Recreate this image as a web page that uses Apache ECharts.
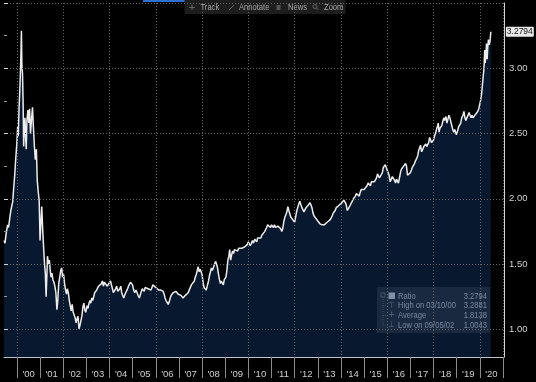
<!DOCTYPE html>
<html>
<head>
<meta charset="utf-8">
<script src="https://cdn.jsdelivr.net/npm/echarts@6/dist/echarts.min.js"></script>
<style>
html,body{margin:0;padding:0;background:#000;}
#chart{width:536px;height:382px;}
</style>
</head>
<body>
<div id="chart"></div>
<script>
// ---- DATA ----
const dates = [
'1999-06-10','1999-06-25','1999-07-15','1999-08-05','1999-08-20','1999-09-10','1999-09-25','1999-10-10','1999-10-25','1999-11-10','1999-11-25','1999-12-10','1999-12-28',
'2000-01-10','2000-01-20','2000-02-01','2000-02-15','2000-02-25','2000-03-03','2000-03-10','2000-03-17','2000-03-27','2000-04-05','2000-04-14','2000-04-25','2000-05-05','2000-05-15','2000-05-25','2000-06-05','2000-06-20','2000-07-05','2000-07-17','2000-07-31','2000-08-15','2000-09-01','2000-09-15','2000-10-01','2000-10-15','2000-11-01','2000-11-15','2000-12-01','2000-12-15','2000-12-29',
'2001-01-10','2001-01-25','2001-02-10','2001-02-25','2001-03-10','2001-03-22','2001-04-04','2001-04-15','2001-04-25','2001-05-10','2001-05-25','2001-06-08','2001-06-20','2001-07-05','2001-07-20','2001-08-05','2001-08-20','2001-09-05','2001-09-21','2001-10-05','2001-10-20','2001-11-05','2001-11-20','2001-12-05','2001-12-20',
'2002-01-05','2002-01-20','2002-02-05','2002-02-20','2002-03-05','2002-03-20','2002-04-05','2002-04-20','2002-05-05','2002-05-20','2002-06-05','2002-06-20','2002-07-05','2002-07-20','2002-08-05','2002-08-20','2002-09-05','2002-09-20','2002-10-08','2002-10-20','2002-11-05','2002-11-20','2002-12-05','2002-12-20',
'2003-01-10','2003-01-25','2003-02-10','2003-02-25','2003-03-10','2003-03-25','2003-04-10','2003-04-25','2003-05-10','2003-05-25','2003-06-10','2003-06-25','2003-07-10','2003-07-25','2003-08-10','2003-08-25','2003-09-10','2003-09-25','2003-10-10','2003-10-25','2003-11-10','2003-11-25','2003-12-10','2003-12-25',
'2004-01-15','2004-01-30','2004-02-15','2004-03-01','2004-03-20','2004-04-05','2004-04-20','2004-05-10','2004-05-25','2004-06-10','2004-06-25','2004-07-10','2004-07-25','2004-08-10','2004-08-25','2004-09-10','2004-09-25','2004-10-10','2004-10-25','2004-11-10','2004-11-25','2004-12-10','2004-12-28',
'2005-01-15','2005-02-01','2005-02-20','2005-03-10','2005-03-25','2005-04-15','2005-04-28','2005-05-15','2005-05-30','2005-06-15','2005-06-30','2005-07-15','2005-07-30','2005-08-15','2005-08-30','2005-09-15','2005-09-30','2005-10-15','2005-10-30','2005-11-15','2005-11-30','2005-12-15','2005-12-30',
'2006-01-15','2006-01-30','2006-02-15','2006-03-05','2006-03-20','2006-04-10','2006-04-25','2006-05-10','2006-05-25','2006-06-10','2006-06-25','2006-07-15','2006-07-30','2006-08-15','2006-08-30','2006-09-15','2006-09-30','2006-10-15','2006-10-30','2006-11-15','2006-11-30','2006-12-15','2006-12-30',
'2007-01-15','2007-01-30','2007-02-15','2007-03-05','2007-03-20','2007-04-10','2007-04-25','2007-05-10','2007-05-25','2007-06-10','2007-06-25','2007-07-15','2007-07-30','2007-08-15','2007-08-30','2007-09-15','2007-09-30','2007-10-15','2007-10-30','2007-11-15','2007-11-30','2007-12-15','2007-12-30',
'2008-01-15','2008-01-30','2008-02-15','2008-03-05','2008-03-20','2008-04-10','2008-04-25','2008-05-10','2008-05-25','2008-06-10','2008-06-25','2008-07-15','2008-07-30','2008-08-15','2008-08-30','2008-09-15','2008-09-30','2008-10-15','2008-10-30','2008-11-15','2008-11-30','2008-12-15','2008-12-30',
'2009-01-10','2009-01-25','2009-02-10','2009-02-25','2009-03-10','2009-03-25','2009-04-10','2009-04-25','2009-05-10','2009-05-25','2009-06-10','2009-06-25','2009-07-15','2009-07-30','2009-08-15','2009-08-30','2009-09-15','2009-09-30','2009-10-15','2009-10-30','2009-11-15','2009-11-30','2009-12-15','2009-12-30',
'2010-01-15','2010-01-30','2010-02-15','2010-03-05','2010-03-20','2010-04-10','2010-04-25','2010-05-10','2010-05-25','2010-06-10','2010-06-25','2010-07-15','2010-07-30','2010-08-15','2010-08-30','2010-09-15','2010-09-30','2010-10-15','2010-10-30','2010-11-15','2010-11-30','2010-12-15','2010-12-30',
'2011-01-15','2011-01-30','2011-02-15','2011-03-05','2011-03-20','2011-04-10','2011-04-25','2011-05-10','2011-05-25','2011-06-10','2011-06-25','2011-07-15','2011-07-30','2011-08-15','2011-08-30','2011-09-15','2011-09-30','2011-10-15','2011-10-30','2011-11-15','2011-11-30','2011-12-15','2011-12-30',
'2012-01-15','2012-01-30','2012-02-15','2012-03-05','2012-03-20','2012-04-10','2012-04-25','2012-05-10','2012-05-25','2012-06-10','2012-06-25','2012-07-15','2012-07-30','2012-08-15','2012-08-30','2012-09-15','2012-09-30','2012-10-15','2012-10-30','2012-11-15','2012-11-30','2012-12-15','2012-12-30',
'2013-01-15','2013-01-30','2013-02-15','2013-03-05','2013-03-20','2013-04-10','2013-04-25','2013-05-10','2013-05-25','2013-06-10','2013-06-25','2013-07-15','2013-07-30','2013-08-15','2013-08-30','2013-09-15','2013-09-30','2013-10-15','2013-10-30','2013-11-15','2013-11-30','2013-12-15','2013-12-30',
'2014-01-15','2014-01-30','2014-02-15','2014-03-05','2014-03-20','2014-04-10','2014-04-25','2014-05-10','2014-05-25','2014-06-10','2014-06-25','2014-07-15','2014-07-30','2014-08-15','2014-08-30','2014-09-15','2014-09-30','2014-10-15','2014-10-30','2014-11-15','2014-11-30','2014-12-15','2014-12-30',
'2015-01-15','2015-01-30','2015-02-15','2015-03-05','2015-03-20','2015-04-10','2015-04-25','2015-05-10','2015-05-25','2015-06-10','2015-06-25','2015-07-15','2015-07-30','2015-08-15','2015-08-30','2015-09-15','2015-09-30','2015-10-15','2015-10-30','2015-11-15','2015-11-30','2015-12-15','2015-12-30',
'2016-01-15','2016-01-30','2016-02-15','2016-03-05','2016-03-20','2016-04-10','2016-04-25','2016-05-10','2016-05-25','2016-06-10','2016-06-25','2016-07-15','2016-07-30','2016-08-15','2016-08-30','2016-09-15','2016-09-30','2016-10-15','2016-10-30','2016-11-15','2016-11-30','2016-12-15','2016-12-30',
'2017-01-15','2017-01-30','2017-02-15','2017-03-05','2017-03-20','2017-04-10','2017-04-25','2017-05-10','2017-05-25','2017-06-10','2017-06-25','2017-07-15','2017-07-30','2017-08-15','2017-08-30','2017-09-15','2017-09-30','2017-10-15','2017-10-30','2017-11-15','2017-11-30','2017-12-15','2017-12-30',
'2018-01-15','2018-01-30','2018-02-15','2018-03-05','2018-03-15','2018-03-28','2018-04-10','2018-04-25','2018-05-10','2018-05-25','2018-06-10','2018-06-25','2018-07-15','2018-07-30','2018-08-15','2018-08-30','2018-09-15','2018-09-30','2018-10-15','2018-10-30','2018-11-15','2018-11-30','2018-12-15','2018-12-27',
'2019-01-15','2019-01-30','2019-02-15','2019-03-05','2019-03-20','2019-04-10','2019-04-25','2019-05-10','2019-05-25','2019-06-10','2019-06-25','2019-07-15','2019-07-30','2019-08-15','2019-08-30','2019-09-15','2019-09-30','2019-10-15','2019-10-30','2019-11-15','2019-11-30','2019-12-15','2019-12-30',
'2020-01-15','2020-01-30','2020-02-12','2020-02-25','2020-03-05','2020-03-18','2020-03-25','2020-04-05','2020-04-15','2020-04-25','2020-05-05','2020-05-15','2020-05-28','2020-06-10','2020-06-22'
];
const ratio = [
1.68,1.66,1.74,1.80,1.78,1.86,1.91,1.90,1.98,2.09,2.18,2.30,2.42,
2.55,2.48,2.68,2.85,3.00,3.12,3.2881,3.02,2.96,2.76,2.40,2.55,2.62,2.48,2.38,2.60,2.68,2.58,2.69,2.50,2.60,2.70,2.55,2.40,2.30,2.38,2.14,2.05,1.99,1.68,
1.80,1.94,1.75,1.61,1.50,1.43,1.25,1.40,1.56,1.50,1.53,1.45,1.40,1.43,1.38,1.36,1.33,1.28,1.15,1.22,1.35,1.40,1.45,1.47,1.40,
1.42,1.35,1.30,1.27,1.31,1.28,1.22,1.18,1.14,1.19,1.13,1.12,1.09,1.05,1.08,1.10,1.0043,1.03,1.02,1.10,1.17,1.20,1.15,1.13,
1.18,1.16,1.20,1.22,1.20,1.24,1.22,1.25,1.28,1.27,1.30,1.29,1.33,1.34,1.32,1.35,1.37,1.33,1.36,1.35,1.36,1.33,1.32,1.34,
1.37,1.34,1.31,1.28,1.27,1.31,1.33,1.29,1.30,1.31,1.33,1.28,1.26,1.24,1.26,1.28,1.29,1.31,1.33,1.34,1.36,1.35,1.34,
1.30,1.28,1.30,1.28,1.26,1.24,1.25,1.29,1.31,1.30,1.29,1.32,1.33,1.32,1.31,1.32,1.31,1.30,1.32,1.34,1.35,1.34,1.32,
1.33,1.31,1.30,1.31,1.30,1.31,1.29,1.27,1.24,1.22,1.22,1.19,1.21,1.24,1.26,1.27,1.28,1.29,1.27,1.29,1.28,1.27,1.26,
1.27,1.26,1.25,1.24,1.25,1.26,1.27,1.26,1.28,1.30,1.31,1.34,1.35,1.34,1.37,1.40,1.42,1.45,1.48,1.44,1.46,1.44,1.42,
1.36,1.32,1.31,1.30,1.33,1.37,1.41,1.44,1.47,1.45,1.44,1.50,1.52,1.50,1.47,1.42,1.38,1.35,1.37,1.36,1.34,1.38,1.37,
1.40,1.45,1.53,1.56,1.61,1.53,1.57,1.60,1.58,1.61,1.60,1.62,1.60,1.62,1.61,1.63,1.62,1.63,1.61,1.63,1.64,1.63,1.65,1.67,
1.66,1.64,1.65,1.68,1.66,1.69,1.68,1.67,1.70,1.69,1.71,1.70,1.72,1.73,1.72,1.75,1.76,1.78,1.80,1.81,1.79,1.78,1.80,
1.79,1.78,1.80,1.78,1.77,1.79,1.80,1.78,1.77,1.75,1.77,1.83,1.86,1.88,1.90,1.94,1.91,1.90,1.86,1.87,1.84,1.83,1.82,
1.86,1.90,1.93,1.96,1.98,1.95,1.93,1.92,1.90,1.91,1.93,1.94,1.95,1.96,1.97,1.95,1.93,1.89,1.87,1.86,1.85,1.84,1.83,
1.82,1.81,1.80,1.80,1.79,1.80,1.79,1.81,1.82,1.83,1.82,1.84,1.85,1.87,1.89,1.90,1.91,1.93,1.94,1.93,1.95,1.94,1.95,
1.97,1.96,1.99,2.00,1.96,1.91,1.90,1.92,1.95,1.96,1.98,2.00,2.01,2.02,2.04,2.03,2.04,2.02,2.05,2.07,2.08,2.06,2.07,
2.06,2.08,2.10,2.12,2.11,2.10,2.13,2.12,2.14,2.13,2.12,2.16,2.19,2.18,2.16,2.17,2.16,2.20,2.24,2.23,2.26,2.24,2.25,
2.20,2.18,2.13,2.15,2.17,2.17,2.14,2.12,2.15,2.16,2.12,2.17,2.21,2.23,2.24,2.25,2.26,2.27,2.25,2.18,2.17,2.19,2.20,
2.22,2.24,2.25,2.27,2.29,2.31,2.33,2.37,2.39,2.41,2.36,2.38,2.40,2.39,2.42,2.40,2.41,2.43,2.47,2.46,2.43,2.44,2.45,
2.48,2.50,2.53,2.56,2.58,2.51,2.54,2.53,2.56,2.59,2.62,2.60,2.63,2.58,2.61,2.64,2.62,2.61,2.56,2.53,2.51,2.53,2.51,2.49,
2.52,2.55,2.56,2.58,2.62,2.64,2.67,2.62,2.60,2.62,2.63,2.66,2.64,2.62,2.64,2.62,2.61,2.63,2.65,2.66,2.67,2.69,2.70,
2.76,2.81,2.88,2.95,2.99,3.14,3.04,3.10,3.19,3.07,3.16,3.22,3.18,3.21,3.2794
];
const yearLabels = ["'00","'01","'02","'03","'04","'05","'06","'07","'08","'09","'10","'11","'12","'13","'14","'15","'16","'17","'18","'19","'20"];
const legendLabels = ['Ratio','High on 03/10/00','Average','Low on 09/05/02'];
const legendValues = ['3.2794','3.2881','1.8138','1.0043'];
const toolbarItems = ['Track','Annotate','News','Zoom'];

// ---- CHART ----
const FONT = '"Liberation Sans",Arial,sans-serif';
const NARROW = 0.8;
const chart = echarts.init(document.getElementById('chart'), null, {renderer:'canvas'});
const seriesData = dates.map((d,i)=>[d, ratio[i]]);

// legend box graphic (UI chrome)
const lgX = 377, lgY = 287, rowH = 9.7;
const legendChildren = [
  {type:'rect', shape:{x:lgX, y:lgY, width:113, height:46}, style:{fill:'rgba(58,58,58,0.6)'}},
  {type:'rect', shape:{x:381, y:293, width:4, height:4}, style:{fill:'none', stroke:'#888', lineWidth:0.8}},
  {type:'line', shape:{x1:383, y1:297, x2:383, y2:lgY+9+3*rowH}, style:{stroke:'#777', lineWidth:0.8, lineDash:[1,1]}},
  {type:'rect', shape:{x:388.5, y:292.5, width:6.5, height:6.5}, style:{fill:'#f2f2f2'}}
];
const glyphs = ['', '\u22A4', '+', '\u22A5'];
legendLabels.forEach((lab,i)=>{
  const cy = lgY + 9 + i*rowH;
  if(i>0){
    legendChildren.push({type:'line', shape:{x1:383, y1:cy, x2:388, y2:cy}, style:{stroke:'#777', lineWidth:0.8, lineDash:[1,1]}});
    legendChildren.push({type:'text', x:391.5, y:cy, style:{text:glyphs[i], fill:'#aaa', font:'8px "DejaVu Sans"', textAlign:'center', textVerticalAlign:'middle'}});
  }
  legendChildren.push({type:'text', x:398, y:cy, scaleX:NARROW, style:{text:lab, fill:'#dedede', font:'9.5px '+FONT, textAlign:'left', textVerticalAlign:'middle'}});
  legendChildren.push({type:'text', x:487, y:cy, scaleX:NARROW, style:{text:legendValues[i], fill:'#dedede', font:'9.5px '+FONT, textAlign:'right', textVerticalAlign:'middle'}});
});

// toolbar graphic (UI chrome)
const tbTextX = [200.5, 239, 288, 324];
const toolbarChildren = [
  {type:'rect', shape:{x:143, y:0, width:43, height:2}, style:{fill:'#2f6fd0'}},
  {type:'rect', shape:{x:184.5, y:0, width:161, height:14}, style:{fill:'#1d1d1d'}}
];
toolbarItems.forEach((t,i)=>{
  toolbarChildren.push({type:'text', x:tbTextX[i], y:7.5, scaleX:NARROW, style:{text:t, fill:'#a8a8a8', font:'9.5px '+FONT, textAlign:'left', textVerticalAlign:'middle'}});
});
toolbarChildren.push({type:'text', x:192, y:7.5, style:{text:'+', fill:'#777', font:'9px "DejaVu Sans"', textAlign:'center', textVerticalAlign:'middle'}});
toolbarChildren.push({type:'line', shape:{x1:229, y1:10, x2:234, y2:5}, style:{stroke:'#777', lineWidth:0.8}});
toolbarChildren.push({type:'rect', shape:{x:276.5, y:5, width:4, height:5}, style:{fill:'#555'}});
toolbarChildren.push({type:'circle', shape:{cx:315, cy:6.5, r:2}, style:{fill:'none', stroke:'#777', lineWidth:0.8}});
toolbarChildren.push({type:'line', shape:{x1:316.5, y1:8, x2:318.5, y2:10}, style:{stroke:'#777', lineWidth:0.8}});

const option = {
  backgroundColor:'#000',
  animation:false,
  textStyle:{fontFamily:FONT},
  grid:[
    {left:4, right:32, top:3, bottom:25},
    {left:17, right:33, top:3, bottom:25},
    {left:4, right:32, top:3, bottom:52.75}
  ],
  xAxis:[
    {gridIndex:0, type:'time', min:+new Date('1999-06-09'), max:+new Date('2021-01-16'),
     axisLine:{show:true, lineStyle:{color:'#c4c4c4', width:1}}, axisTick:{show:false}, axisLabel:{show:false}, splitLine:{show:false}},
    {gridIndex:1, type:'category', data:yearLabels, boundaryGap:true, z:3,
     axisLine:{show:false},
     axisTick:{show:true, interval:0, length:21, lineStyle:{color:'#8a8a8a'}},
     axisLabel:{interval:0, color:'#d0d0d0', fontSize:9.5, fontFamily:FONT, margin:12},
     splitLine:{show:true, interval:function(i){return i%2===0;}, lineStyle:{color:'#666', type:[1,2], width:1}}},
    {gridIndex:2, type:'value', show:false, min:0, max:1}
  ],
  yAxis:[
    {gridIndex:0, type:'value', min:0.7874, max:3.5, position:'right',
     axisLine:{show:true, lineStyle:{color:'#d4d4d4', width:1}}, axisTick:{show:false}, axisLabel:{show:false}, splitLine:{show:false}},
    {gridIndex:1, type:'value', show:false, min:0, max:1},
    {gridIndex:2, type:'value', min:1, max:3.5, interval:0.5, position:'right', z:3,
     axisLine:{show:false},
     axisTick:{show:true, length:4, lineStyle:{color:'#d4d4d4'}},
     minorTick:{show:true, splitNumber:2, length:3, lineStyle:{color:'#999'}},
     axisLabel:{color:'#d0d0d0', fontSize:9.5, fontFamily:FONT, margin:5, showMaxLabel:false, formatter:function(v){return v.toFixed(2);}},
     splitLine:{show:true, lineStyle:{color:'#666', type:[1,2], width:1}}}
  ],
  series:[{
    type:'line', xAxisIndex:0, yAxisIndex:0, data:seriesData,
    showSymbol:false, symbol:'none', sampling:'none', z:2,
    lineStyle:{color:'#ececec', width:1.5},
    areaStyle:{color:'rgba(15,47,92,0.72)', origin:'start'},
    endLabel:{show:true, distance:15, formatter:function(p){return p.value[1].toFixed(4);},
      backgroundColor:'#e8e8e8', color:'#111', fontSize:8.5, fontFamily:FONT, padding:[1,1,0,1], borderRadius:1}
  }],
  graphic:[
    {type:'group', children:legendChildren, z:10},
    {type:'group', children:toolbarChildren, z:10}
  ]
};
chart.setOption(option);
</script>
</body>
</html>
